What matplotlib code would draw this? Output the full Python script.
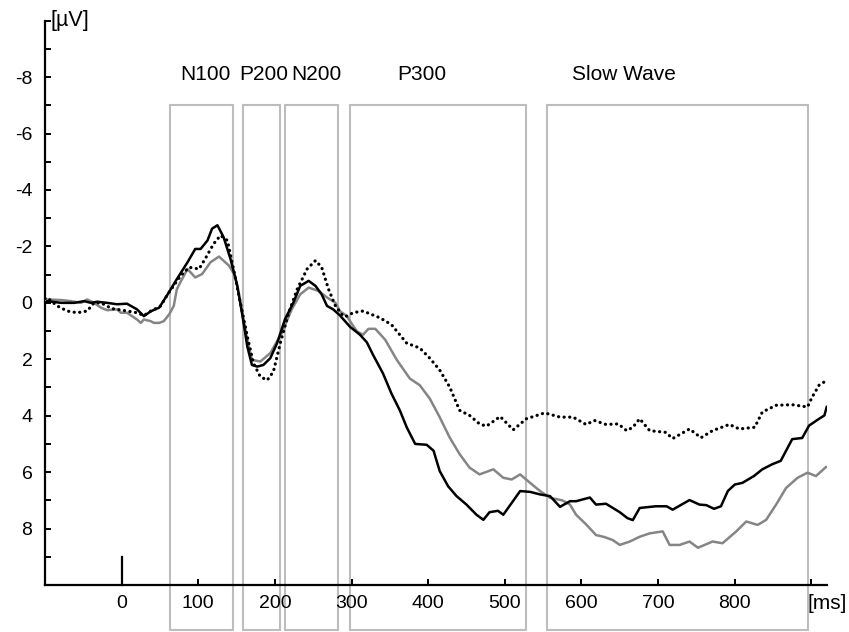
import matplotlib
matplotlib.use("Agg")
import matplotlib.pyplot as plt
from matplotlib.patches import Rectangle

plt.rcParams['font.family'] = ['Liberation Sans', 'DejaVu Sans']

# ---- data (ms, µV) ----
black_t = [-100, -97, -79, -62, -49, -40, -32, -19, -6, 7, 20, 29, 38, 49, 60, 72, 86, 96, 103,
           112, 118, 125, 133, 142, 151, 157, 164, 170, 177, 185, 194, 203, 213, 224, 233, 244,
           253, 261, 268, 276, 285, 298, 311, 320, 328, 341, 352, 363, 372, 383, 398, 407, 415,
           426, 437, 450, 463, 472, 480, 491, 498, 509, 520, 533, 546, 559, 572, 585, 593, 611,
           619, 632, 650, 660, 667, 676, 697, 711, 719, 741, 754, 763, 773, 782, 791, 800, 810,
           825, 836, 849, 860, 875, 888, 897, 910, 917, 920]
black_v = [0.0, -0.06, 0.0, 0.0, -0.06, 0.0, -0.04, 0.0, 0.05, 0.03, 0.23, 0.47, 0.30, 0.17, -0.30,
           -0.84, -1.44, -1.91, -1.91, -2.21, -2.63, -2.75, -2.33, -1.56, -0.60, 0.35, 1.55, 2.20,
           2.26, 2.20, 1.96, 1.42, 0.59, 0.0, -0.60, -0.78, -0.60, -0.30, 0.11, 0.23, 0.45, 0.85,
           1.13, 1.40, 1.84, 2.50, 3.21, 3.81, 4.41, 5.00, 5.03, 5.24, 5.96, 6.50, 6.85, 7.15, 7.51,
           7.69, 7.42, 7.37, 7.51, 7.09, 6.67, 6.70, 6.79, 6.85, 7.23, 7.03, 7.03, 6.90, 7.15, 7.12,
           7.42, 7.63, 7.70, 7.27, 7.21, 7.21, 7.33, 6.99, 7.15, 7.17, 7.30, 7.21, 6.67, 6.44, 6.38,
           6.14, 5.90, 5.72, 5.60, 4.83, 4.79, 4.35, 4.11, 3.99, 3.69]

gray_t = [-100, -97, -79, -66, -53, -45, -36, -27, -19, -6, -1, 7, 20, 25, 29, 38, 42, 49, 55, 62,
          68, 72, 77, 86, 96, 105, 116, 127, 140, 148, 155, 164, 170, 181, 194, 209, 222, 233, 244,
          257, 268, 279, 285, 294, 298, 307, 315, 322, 331, 344, 359, 376, 389, 402, 415, 428, 441,
          454, 467, 485, 498, 509, 520, 533, 546, 559, 575, 585, 593, 606, 619, 630, 641, 650, 663,
          676, 689, 706, 715, 728, 741, 752, 771, 784, 802, 815, 830, 841, 854, 867, 882, 895, 906,
          919]
gray_v = [-0.10, -0.12, -0.10, -0.06, 0.0, -0.12, 0.0, 0.17, 0.26, 0.23, 0.35, 0.35, 0.59, 0.71,
          0.59, 0.65, 0.71, 0.71, 0.65, 0.41, 0.11, -0.48, -0.75, -1.20, -0.90, -1.02, -1.44, -1.64,
          -1.32, -0.96, 0.0, 1.31, 2.02, 2.08, 1.78, 1.07, 0.23, -0.30, -0.54, -0.42, -0.19, 0.0,
          0.30, 0.47, 0.65, 1.01, 1.13, 0.92, 0.92, 1.31, 2.02, 2.68, 2.92, 3.39, 4.05, 4.77, 5.36,
          5.84, 6.08, 5.90, 6.20, 6.26, 6.08, 6.38, 6.67, 6.91, 7.00, 7.15, 7.51, 7.85, 8.23, 8.30,
          8.41, 8.58, 8.46, 8.29, 8.17, 8.10, 8.58, 8.58, 8.46, 8.68, 8.46, 8.52, 8.10, 7.75, 7.87,
          7.69, 7.15, 6.56, 6.20, 6.02, 6.14, 5.82]

dot_t = [-100, -97, -84, -71, -58, -45, -36, -27, -19, -14, -6, 7, 20, 29, 38, 47, 51, 60, 77, 88,
         101, 109, 120, 129, 138, 146, 155, 164, 172, 181, 190, 198, 207, 218, 229, 242, 253, 261,
         270, 279, 289, 294, 302, 315, 337, 352, 372, 389, 402, 415, 428, 441, 454, 467, 476, 494,
         511, 528, 552, 572, 589, 606, 617, 632, 648, 659, 667, 676, 689, 710, 719, 741, 756, 771,
         793, 806, 826, 836, 854, 875, 895, 901, 910, 917]
dot_v = [-0.15, -0.18, 0.11, 0.29, 0.35, 0.29, 0.0, 0.0, 0.11, 0.20, 0.23, 0.29, 0.35, 0.45, 0.29,
         0.17, 0.11, -0.30, -0.96, -1.26, -1.20, -1.56, -2.09, -2.39, -2.21, -1.20, 0.0, 1.19,
         2.14, 2.62, 2.74, 2.44, 1.43, 0.35, -0.48, -1.20, -1.50, -1.26, -0.48, 0.11, 0.47, 0.47,
         0.35, 0.29, 0.53, 0.77, 1.43, 1.60, 1.96, 2.38, 2.98, 3.81, 3.99, 4.29, 4.37, 4.03, 4.50,
         4.11, 3.90, 4.05, 4.05, 4.31, 4.17, 4.31, 4.29, 4.53, 4.41, 4.11, 4.53, 4.59, 4.81, 4.47,
         4.78, 4.53, 4.31, 4.47, 4.41, 3.87, 3.63, 3.61, 3.69, 3.34, 2.92, 2.80]

# component windows (ms) and labels
win_names = ["N100", "P200", "N200", "P300", "Slow Wave"]
win_start = [63, 158, 213, 298, 555]
win_end = [145, 206, 282, 528, 896]
label_x = [109, 185, 254, 392, 655]

y_ticks = list(range(-10, 11))
y_labels = [-8, -6, -4, -2, 0, 2, 4, 6, 8]
x_ticks = [100, 200, 300, 400, 500, 600, 700, 800, 900]
x_labels = [0, 100, 200, 300, 400, 500, 600, 700, 800]

# ---- figure ----
fig = plt.figure(figsize=(8.49, 6.32), dpi=100)
ax = fig.add_axes([45 / 849, (632 - 585) / 632, (826.7 - 45) / 849, (585 - 20.7) / 632])
ax.set_xlim(-100, 920)
ax.set_ylim(10, -10)

box_col = '#bdbdbd'
for s, e in zip(win_start, win_end):
    ax.add_patch(Rectangle((s, -7), e - s, 18.6, fill=False, edgecolor=box_col,
                           linewidth=1.5, clip_on=False, zorder=1))
for name, lx in zip(win_names, label_x):
    ax.text(lx, -8.1, name, ha='center', va='center', fontsize=15)

ax.plot(gray_t, gray_v, color='#858585', linewidth=1.8, zorder=3)
ax.plot(black_t, black_v, color='black', linewidth=1.8, zorder=4)
ax.plot(dot_t, dot_v, color='black', linewidth=2.3, linestyle=(0, (0.05, 1.7)),
        dash_capstyle='round', zorder=5)

for side in ['top', 'right']:
    ax.spines[side].set_visible(False)
ax.spines['left'].set_linewidth(1.6)
ax.spines['bottom'].set_linewidth(1.6)

ax.set_yticks(y_ticks)
ax.set_yticklabels([str(v) if v in y_labels else '' for v in y_ticks])
ax.set_xticks(x_ticks)
ax.set_xticklabels([''] * len(x_ticks))
ax.tick_params(axis='both', direction='in', length=4, width=1.4, labelsize=14, pad=9)
for v in x_labels:
    ax.text(v, 10.65, str(v), ha='center', va='center', fontsize=14, clip_on=False)
ax.text(921, 10.65, '[ms]', ha='center', va='center', fontsize=15, clip_on=False)
ax.plot([0, 0], [9.0, 10], color='black', linewidth=1.6, clip_on=False, zorder=6)
ax.text(-93, -10.0, '[µV]', ha='left', va='center', fontsize=15.5, clip_on=False)

fig.savefig('out.png', dpi=100)
